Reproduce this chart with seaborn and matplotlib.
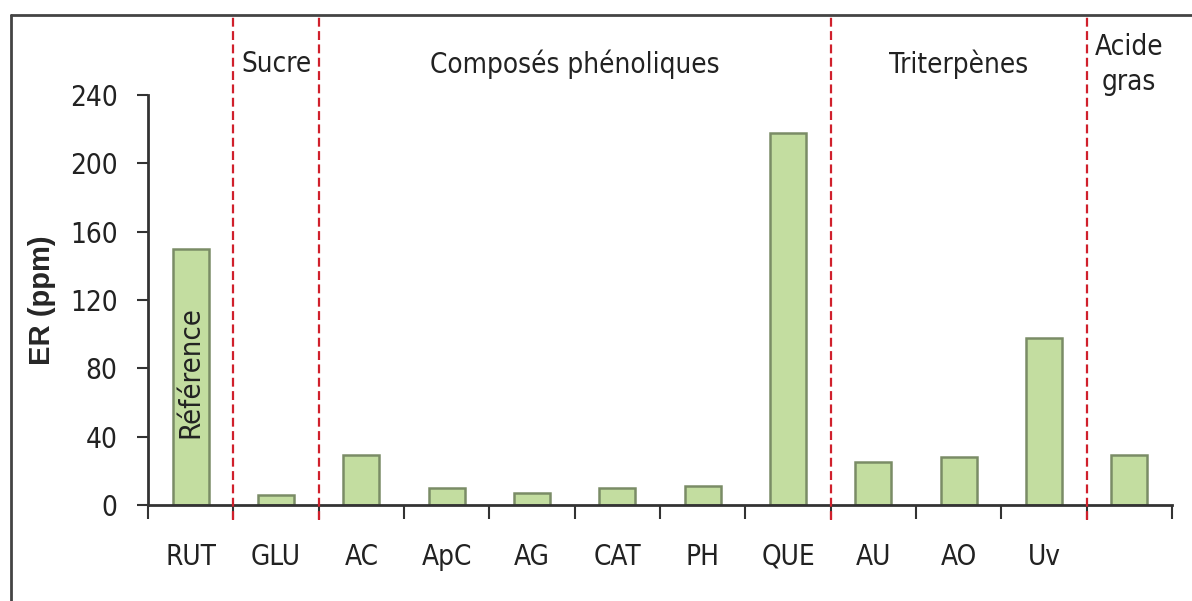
import pandas as pd
import seaborn as sns
import matplotlib.pyplot as plt
from matplotlib.lines import Line2D

# valeurs (ER en ppm)
composes = ['RUT', 'GLU', 'AC', 'ApC', 'AG', 'CAT', 'PH', 'QUE', 'AU', 'AO', 'Uv', 'AGr']
etiquettes = ['RUT', 'GLU', 'AC', 'ApC', 'AG', 'CAT', 'PH', 'QUE', 'AU', 'AO', 'Uv', '']
er_ppm = [150, 6, 29, 10, 7, 10, 11, 218, 25, 28, 98, 29]

# familles chimiques : (nom, premier indice, dernier indice)
familles = [('Sucre', 1, 1), ('Composés phénoliques', 2, 7),
            ('Triterpènes', 8, 10), ('Acide\ngras', 11, 11)]
separations = [0.5, 1.5, 7.5, 10.5]
y_ticks = [0, 40, 80, 120, 160, 200, 240]

sns.set_theme(style='white')
plt.rcParams['font.family'] = ['DejaVu Sans']
plt.rcParams['font.stretch'] = 'condensed'

df = pd.DataFrame({'compose': composes, 'er': er_ppm})

fig = plt.figure(figsize=(11.92, 6.01), dpi=100)
ax = fig.add_axes([0.1242, 0.1597, 0.859, 0.6822])

sns.barplot(data=df, x='compose', y='er', order=composes, ax=ax,
            color='#c3dda0', width=0.42, edgecolor='#7a8c66', linewidth=1.8,
            saturation=1)

ax.set_xlim(-0.5, len(composes) - 0.5)
ax.set_ylim(0, 240)
ax.set_yticks(y_ticks)
ax.set_yticklabels([str(v) for v in y_ticks], fontsize=20, color='#222222')
ax.set_ylabel('ER (ppm)', fontsize=21, fontweight='bold', labelpad=10,
              family=['Liberation Sans', 'DejaVu Sans'], stretch='normal')
ax.set_xlabel('')

# graduations aux frontières, étiquettes au centre
ax.set_xticks([i - 0.5 for i in range(len(composes) + 1)])
ax.set_xticklabels([])
ax.set_xticks(range(len(composes)), minor=True)
ax.set_xticklabels(etiquettes, minor=True, fontsize=20, color='#222222')
ax.tick_params(axis='x', which='major', direction='out', length=10, width=1.5,
               color='#333333', bottom=True)
ax.tick_params(axis='x', which='minor', length=0, pad=27, bottom=True)
ax.tick_params(axis='y', direction='out', length=8, width=1.5,
               color='#333333', left=True, pad=14)

sns.despine(ax=ax)
for s in ['left', 'bottom']:
    ax.spines[s].set_color('#333333')
    ax.spines[s].set_linewidth(2)

# lignes de séparation rouges
ax.vlines(separations, -9, 287, colors='#d0202c', linestyles=(0, (4, 2)),
          linewidth=1.6, clip_on=False, zorder=5)

for nom, i0, i1 in familles:
    ax.text((i0 + i1) / 2, 258, nom, ha='center', va='center', fontsize=20,
            color='#222222', linespacing=1.3)

ax.text(0, 78, 'Référence', rotation=90, ha='center', va='center',
        fontsize=21, color='#222222')

# cadre extérieur (bords gauche et haut)
fig.add_artist(Line2D([0.0092, 0.0092], [0, 0.975], color='#444444', lw=2))
fig.add_artist(Line2D([0.0092, 1.0], [0.975, 0.975], color='#444444', lw=2))

fig.savefig('out.png', dpi=100)
